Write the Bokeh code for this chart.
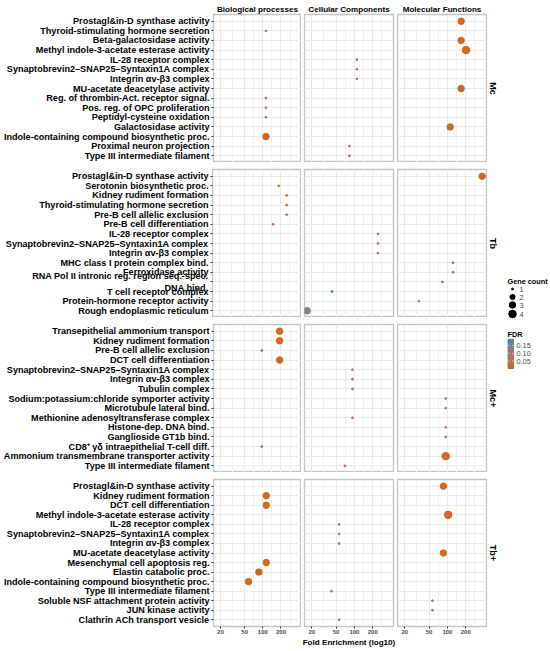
import math
from bokeh.plotting import figure
from bokeh.models import (FactorRange, Range1d, FixedTicker, PrintfTickFormatter,
                          ColumnDataSource, Title)
from bokeh.layouts import row, column
from bokeh.transform import linear_cmap
from bokeh.embed import file_html
from bokeh.resources import INLINE
from bokeh.core.properties import value

# ---------------- data ----------------
ont_codes = ["BP", "CC", "MF"]
ont_labels = ["Biological processes", "Cellular Components", "Molecular Functions"]
row_names = ["Mc", "Tb", "Mc+", "Tb+"]
x_major = [20, 50, 100, 200]

mc_terms = ["Prostagl&in-D synthase activity", "Thyroid-stimulating hormone secretion",
            "Beta-galactosidase activity", "Methyl indole-3-acetate esterase activity",
            "IL-28 receptor complex", "Synaptobrevin2–SNAP25–Syntaxin1A complex",
            "Integrin αv-β3 complex", "MU-acetate deacetylase activity",
            "Reg. of thrombin-Act. receptor signal.", "Pos. reg. of OPC proliferation",
            "Peptidyl-cysteine oxidation", "Galactosidase activity",
            "Indole-containing compound biosynthetic proc.", "Proximal neuron projection",
            "Type III intermediate filament"]
mc_onto = ["MF", "BP", "MF", "MF", "CC", "CC", "CC", "MF", "BP", "BP", "BP", "MF", "BP", "CC", "CC"]
mc_fe = [168, 113, 168, 202, 110, 110, 110, 168, 113, 113, 113, 111, 113, 83, 83]
mc_count = [3, 1, 3, 4, 1, 1, 1, 3, 1, 1, 1, 3, 3, 1, 1]
mc_fdr = [0.008, 0.07, 0.008, 0.005, 0.075, 0.075, 0.075, 0.008, 0.07, 0.07, 0.07, 0.01, 0.01, 0.08, 0.08]

tb_terms = ["Prostagl&in-D synthase activity", "Serotonin biosynthetic proc.",
            "Kidney rudiment formation", "Thyroid-stimulating hormone secretion",
            "Pre-B cell allelic exclusion", "Pre-B cell differentiation",
            "IL-28 receptor complex", "Synaptobrevin2–SNAP25–Syntaxin1A complex",
            "Integrin αv-β3 complex", "MHC class I protein complex bind.",
            "Ferroxidase activity", "RNA Pol II intronic reg. region seq.-spec.\nDNA bind.",
            "T cell receptor complex", "Protein-hormone receptor activity",
            "Rough endoplasmic reticulum"]
tb_onto = ["MF", "BP", "BP", "BP", "BP", "BP", "CC", "CC", "CC", "MF", "MF", "MF", "CC", "MF", "CC"]
tb_fe = [372, 186, 250, 250, 250, 150, 244, 244, 244, 124, 124, 83, 43, 34, 16.8]
tb_count = [3, 1, 1, 1, 1, 1, 1, 1, 1, 1, 1, 1, 1, 1, 3]
tb_fdr = [0.006, 0.04, 0.035, 0.035, 0.035, 0.045, 0.085, 0.085, 0.085, 0.08, 0.08, 0.09, 0.188, 0.09, 0.13]

mcp_terms = ["Transepithelial ammonium transport", "Kidney rudiment formation",
             "Pre-B cell allelic exclusion", "DCT cell differentiation",
             "Synaptobrevin2–SNAP25–Syntaxin1A complex", "Integrin αv-β3 complex",
             "Tubulin complex", "Sodium:potassium:chloride symporter activity",
             "Microtubule lateral bind.", "Methionine adenosyltransferase complex",
             "Histone-dep. DNA bind.", "Ganglioside GT1b bind.",
             "CD8⁺ γδ intraepithelial T-cell diff.", "Ammonium transmembrane transporter activity",
             "Type III intermediate filament"]
mcp_onto = ["BP", "BP", "BP", "BP", "CC", "CC", "CC", "MF", "MF", "CC", "MF", "MF", "BP", "MF", "CC"]
mcp_fe = [190, 190, 96, 190, 93, 93, 93, 94, 94, 93, 94, 94, 96, 94, 70]
mcp_count = [3, 3, 1, 3, 1, 1, 1, 1, 1, 1, 1, 1, 1, 4, 1]
mcp_fdr = [0.0035, 0.0035, 0.06, 0.0035, 0.065, 0.065, 0.065, 0.07, 0.07, 0.065, 0.07, 0.07, 0.06, 0.004, 0.07]

tbp_terms = ["Prostagl&in-D synthase activity", "Kidney rudiment formation",
             "DCT cell differentiation", "Methyl indole-3-acetate esterase activity",
             "IL-28 receptor complex", "Synaptobrevin2–SNAP25–Syntaxin1A complex",
             "Integrin αv-β3 complex", "MU-acetate deacetylase activity",
             "Mesenchymal cell apoptosis reg.", "Elastin catabolic proc.",
             "Indole-containing compound biosynthetic proc.", "Type III intermediate filament",
             "Soluble NSF attachment protein activity", "JUN kinase activity",
             "Clathrin ACh transport vesicle"]
tbp_onto = ["MF", "BP", "BP", "MF", "CC", "CC", "CC", "MF", "BP", "BP", "BP", "CC", "MF", "MF", "CC"]
tbp_fe = [86, 114, 114, 103, 56, 56, 56, 86, 114, 86, 58, 42, 57, 57, 56]
tbp_count = [3, 3, 3, 4, 1, 1, 1, 3, 3, 3, 3, 1, 1, 1, 1]
tbp_fdr = [0.008, 0.006, 0.006, 0.005, 0.08, 0.08, 0.08, 0.008, 0.006, 0.007, 0.008, 0.085, 0.09, 0.09, 0.08]

legend_counts = [1, 2, 3, 4]
legend_fdr_ticks = [0.05, 0.10, 0.15]

# ---------------- colour scale (Lab interpolation like ggplot) ----------------
LOW_COL, HIGH_COL = "#D2691E", "#4682B4"


def _s2l(c):
    c = c / 255.0
    return c / 12.92 if c <= 0.04045 else ((c + 0.055) / 1.055) ** 2.4


def _l2s(c):
    c = min(1.0, max(0.0, c))
    c = 12.92 * c if c <= 0.0031308 else 1.055 * c ** (1 / 2.4) - 0.055
    return max(0, min(255, int(round(c * 255))))


def hex_to_lab(h):
    r, g, b = [_s2l(int(h[i:i + 2], 16)) for i in (1, 3, 5)]
    X = 0.4124 * r + 0.3576 * g + 0.1805 * b
    Y = 0.2126 * r + 0.7152 * g + 0.0722 * b
    Z = 0.0193 * r + 0.1192 * g + 0.9505 * b

    def f(t):
        return t ** (1 / 3) if t > 0.008856 else 7.787 * t + 16 / 116
    fx, fy, fz = f(X / 0.95047), f(Y), f(Z / 1.08883)
    return (116 * fy - 16, 500 * (fx - fy), 200 * (fy - fz))


def lab_to_hex(L, a, b):
    fy = (L + 16) / 116
    fx = fy + a / 500
    fz = fy - b / 200

    def fi(t):
        return t ** 3 if t ** 3 > 0.008856 else (t - 16 / 116) / 7.787
    X, Y, Z = 0.95047 * fi(fx), fi(fy), 1.08883 * fi(fz)
    r = 3.2406 * X - 1.5372 * Y - 0.4986 * Z
    g = -0.9689 * X + 1.8758 * Y + 0.0415 * Z
    bb = 0.0557 * X - 0.2040 * Y + 1.0570 * Z
    return "#%02x%02x%02x" % (_l2s(r), _l2s(g), _l2s(bb))


lo_lab, hi_lab = hex_to_lab(LOW_COL), hex_to_lab(HIGH_COL)
palette = [lab_to_hex(*[lo_lab[k] + (hi_lab[k] - lo_lab[k]) * i / 255 for k in range(3)]) for i in range(256)]

all_fdr = mc_fdr + tb_fdr + mcp_fdr + tbp_fdr
FDR_LO, FDR_HI = min(all_fdr), max(all_fdr)
all_cnt = mc_count + tb_count + mcp_count + tbp_count
C_LO, C_HI = min(all_cnt), max(all_cnt)


def count_px(c):
    s = 1 + 5 * math.sqrt((c - C_LO) / (C_HI - C_LO))
    return 0.8 + 1.12 * s


def fdr_color(v):
    t = (v - FDR_LO) / (FDR_HI - FDR_LO)
    return palette[max(0, min(255, int(round(t * 255))))]


x_minor = [math.sqrt(a * b) for a, b in zip(x_major, x_major[1:])] + [x_major[-1] * math.sqrt(x_major[-1] / x_major[-2])]

# ---------------- layout constants ----------------
FONT = "Liberation Sans"
FW, FH = 89, 148
COL_B = [(212, 0), (3, 4), (0, 16)]
TB, GY, BB = 14, 7, 22
XLO, XHI = 15.2, 438
LW = 46

rows_data = [
    (row_names[0], mc_terms, mc_onto, mc_fe, mc_count, mc_fdr),
    (row_names[1], tb_terms, tb_onto, tb_fe, tb_count, tb_fdr),
    (row_names[2], mcp_terms, mcp_onto, mcp_fe, mcp_count, mcp_fdr),
    (row_names[3], tbp_terms, tbp_onto, tbp_fe, tbp_count, tbp_fdr),
]

cmap = linear_cmap("fdr", palette, FDR_LO, FDR_HI)
row_layouts = []
for ri, (rname, terms, onto, fe, cnt, fdr) in enumerate(rows_data):
    yr = FactorRange(factors=list(reversed(terms)), range_padding=0.2, range_padding_units="absolute")
    figs = []
    top, bottom = ri == 0, ri == len(rows_data) - 1
    bt = TB if top else GY
    bb = BB if bottom else 0
    for ci, code in enumerate(ont_codes):
        idx = [i for i, o in enumerate(onto) if o == code]
        src = ColumnDataSource(dict(
            term=[terms[i] for i in idx], fe=[fe[i] for i in idx],
            cnt=[cnt[i] for i in idx], fdr=[fdr[i] for i in idx],
            d=[count_px(cnt[i]) for i in idx]))
        bl, br = COL_B[ci]
        p = figure(x_axis_type="log", x_range=Range1d(XLO, XHI), y_range=yr,
                   width=bl + FW + br, height=bt + FH + bb,
                   output_backend="svg", toolbar_location=None,
                   title=ont_labels[ci] if top else None,
                   min_border_left=bl, min_border_right=br,
                   min_border_top=bt, min_border_bottom=bb,
                   background_fill_color="white", border_fill_color="white")
        if top:
            p.title.align = "center"
            p.title.text_font = FONT
            p.title.text_font_size = "8.1px"
            p.title.text_font_style = "bold"
            p.title.text_color = "black"
            p.title.standoff = 1
        p.outline_line_color = "#C4C4C4"
        p.outline_line_width = 1.3
        p.xgrid.ticker = FixedTicker(ticks=x_major, minor_ticks=x_minor)
        p.xgrid.grid_line_color = "#EAEAEA"
        p.xgrid.minor_grid_line_color = "#F1F1F1"
        p.ygrid.grid_line_color = "#EAEAEA"
        if ci == 0:
            ya = p.yaxis[0]
            ya.major_label_text_font = FONT
            ya.major_label_text_font_size = "9.1px"
            ya.major_label_text_font_style = "bold"
            ya.major_label_text_color = "black"
            ya.axis_line_color = None
            ya.major_tick_out = 2
            ya.major_tick_in = 0
            ya.major_tick_line_color = "#333333"
            ya.major_label_standoff = 2
        else:
            p.yaxis.visible = False
        if bottom:
            xa = p.xaxis[0]
            xa.ticker = FixedTicker(ticks=x_major)
            xa.formatter = PrintfTickFormatter(format="%d")
            xa.major_label_text_font = FONT
            xa.major_label_text_font_size = "6px"
            xa.major_label_text_font_style = "bold"
            xa.major_label_text_color = "#4D4D4D"
            xa.axis_line_color = None
            xa.major_tick_out = 2
            xa.major_tick_in = 0
            xa.minor_tick_line_color = None
            xa.major_tick_line_color = "#333333"
            xa.major_label_standoff = 1
            if ci == 1:
                xa.axis_label = "Fold Enrichment (log10)"
                xa.axis_label_text_font = FONT
                xa.axis_label_text_font_size = "8.1px"
                xa.axis_label_text_font_style = "bold"
                xa.axis_label_text_color = "black"
                xa.axis_label_standoff = 1
        else:
            p.xaxis.visible = False
        if ci == 2:
            p.add_layout(Title(text=rname, align="center", text_font=FONT, text_font_size="9px",
                               text_font_style="bold", text_color="black", standoff=2), "right")
        p.scatter(x="fe", y="term", size="d", source=src, color=cmap, marker="circle")
        figs.append(p)
    row_layouts.append(row(*figs))

panels = column(*row_layouts)

# ---------------- legend column ----------------
TOTAL_H = TB + 4 * FH + 3 * GY + BB
lg = figure(width=LW, height=TOTAL_H, x_range=Range1d(0, LW), y_range=Range1d(TOTAL_H, 0),
            output_backend="svg", toolbar_location=None, title=None,
            x_axis_location=None, y_axis_location=None,
            min_border_left=0, min_border_right=0, min_border_top=0, min_border_bottom=0)
lg.grid.visible = False
lg.outline_line_color = None

lg.text(x=[5], y=[281], text=["Gene count"], text_font=value(FONT), text_font_size="7.3px",
        text_font_style="bold", text_baseline="middle", text_align="left", text_color="black")
key_y = [288.5, 296.5, 304.5, 313.5]
lg.scatter(x=[10] * len(legend_counts), y=key_y, size=[count_px(c) for c in legend_counts],
           color="black", marker="circle")
lg.text(x=[17] * len(legend_counts), y=key_y, text=[str(c) for c in legend_counts],
        text_font=value(FONT), text_font_size="7.3px", text_baseline="middle",
        text_align="left", text_color="#4D4D4D")

lg.text(x=[5], y=[334], text=["FDR"], text_font=value(FONT), text_font_size="7.3px",
        text_font_style="bold", text_baseline="middle", text_align="left", text_color="black")
BAR_TOP, BAR_BOT, BAR_L, BAR_R = 339, 368, 5.5, 11
n = 58
tops, bots, cols = [], [], []
for i in range(n):
    v = FDR_LO + (FDR_HI - FDR_LO) * (i + 0.5) / n
    bots.append(BAR_BOT - (BAR_BOT - BAR_TOP) * i / n)
    tops.append(BAR_BOT - (BAR_BOT - BAR_TOP) * (i + 1) / n)
    cols.append(fdr_color(v))
lg.quad(left=BAR_L, right=BAR_R, top=tops, bottom=bots, color=cols)
ty = [BAR_BOT - (v - FDR_LO) / (FDR_HI - FDR_LO) * (BAR_BOT - BAR_TOP) for v in legend_fdr_ticks]
lg.segment(x0=[BAR_L] * 3, x1=[BAR_L + 1.2] * 3, y0=ty, y1=ty, line_color="white", line_width=0.8)
lg.segment(x0=[BAR_R - 1.2] * 3, x1=[BAR_R] * 3, y0=ty, y1=ty, line_color="white", line_width=0.8)
lg.text(x=[14] * 3, y=ty, text=["%.2f" % v for v in legend_fdr_ticks], text_font=value(FONT),
        text_font_size="7.3px", text_baseline="middle", text_align="left", text_color="#4D4D4D")

layout = row(panels, lg)
open("out.html", "w").write(file_html(layout, INLINE, "chart"))
